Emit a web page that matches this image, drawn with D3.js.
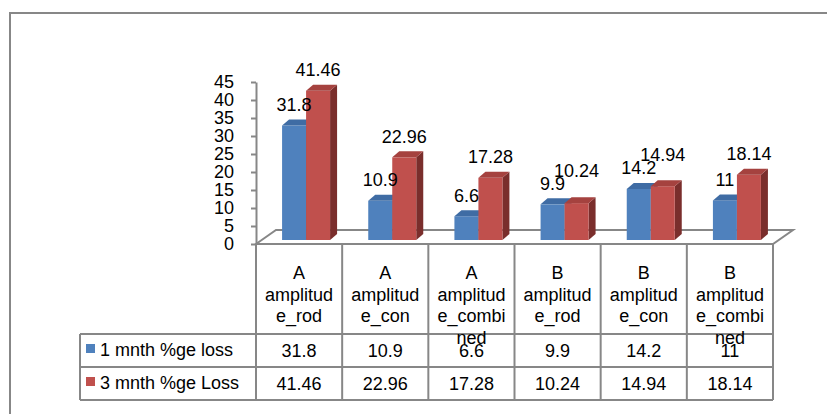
<!DOCTYPE html>
<html>
<head>
<meta charset="utf-8">
<script src="https://cdn.jsdelivr.net/npm/d3@7"></script>
<style>
  html, body { margin: 0; padding: 0; background: #fff; }
  svg { display: block; font-family: "Liberation Sans", Arial, sans-serif; }
</style>
</head>
<body>
<svg id="chart" width="827" height="414"></svg>
<script>
// ---- data ----
const categories = ["A amplitude_rod", "A amplitude_con", "A amplitude_combined",
                    "B amplitude_rod", "B amplitude_con", "B amplitude_combined"];
const seriesNames = ["1 mnth %ge loss", "3 mnth %ge Loss"];
const oneMonth = [31.8, 10.9, 6.6, 9.9, 14.2, 11];
const threeMonth = [41.46, 22.96, 17.28, 10.24, 14.94, 18.14];
const yTicks = [0, 5, 10, 15, 20, 25, 30, 35, 40, 45];

const seriesValues = [oneMonth, threeMonth];
const colors = [
  { front: "#4F81BD", top: "#3F6CA4", side: "#2F5683" },
  { front: "#C0504D", top: "#A5423F", side: "#7A2E2C" }
];
const gridColor = "#878787";

const svg = d3.select("#chart");

// outer frame
svg.append("rect").attr("x", 10).attr("y", 13).attr("width", 830).attr("height", 420)
  .attr("fill", "none").attr("stroke", gridColor).attr("stroke-width", 2);

// scales
const x = d3.scaleBand().domain(categories).range([256, 773]).padding(0);
const xs = d3.scaleBand().domain(seriesNames).range([0, 48]).padding(0);
const y = d3.scaleLinear().domain([0, 45]).range([244, 82]);

const depthX = 20, depthY = -14;      // floor depth
const barShiftX = 7, barShiftY = -4;  // bars placed mid-depth
const boxDX = 7, boxDY = -6;          // bar box depth

// floor
const x0 = x.range()[0], x1 = x.range()[1], y0 = y(0);
svg.append("polygon")
  .attr("points", [[x0, y0], [x0 + depthX, y0 + depthY], [x1 + depthX, y0 + depthY], [x1, y0]].map(p => p.join(",")).join(" "))
  .attr("fill", "#fff").attr("stroke", gridColor).attr("stroke-width", 2);

// y axis
const axis = svg.append("g").attr("transform", `translate(${x0},0)`)
  .call(d3.axisLeft(y).tickValues(yTicks).tickSize(5).tickSizeOuter(0).tickPadding(17));
axis.select(".domain").attr("stroke", gridColor).attr("stroke-width", 2);
axis.selectAll(".tick line").attr("stroke", gridColor).attr("stroke-width", 2);
axis.selectAll(".tick text").attr("font-size", 18).attr("fill", "#000")
  .attr("font-family", "Liberation Sans, Arial, sans-serif");

// bars
const bw = xs.bandwidth();
const groupOffset = (x.bandwidth() - 48) / 2 + barShiftX;
const barsG = svg.append("g");
const labelData = [];
categories.forEach((c, i) => {
  seriesNames.forEach((s, j) => {
    const v = seriesValues[j][i];
    const bx = x(c) + groupOffset + xs(s);
    const top = y(v) + barShiftY;
    const bottom = y(0) + barShiftY;
    const col = colors[j];
    // side face
    barsG.append("polygon")
      .attr("points", [[bx + bw, top], [bx + bw + boxDX, top + boxDY], [bx + bw + boxDX, bottom + boxDY], [bx + bw, bottom]].map(p => p.join(",")).join(" "))
      .attr("fill", col.side);
    // front face
    barsG.append("rect").attr("x", bx).attr("y", top).attr("width", bw).attr("height", bottom - top)
      .attr("fill", col.front);
    // top face
    barsG.append("polygon")
      .attr("points", [[bx, top], [bx + boxDX, top + boxDY], [bx + bw + boxDX, top + boxDY], [bx + bw, top]].map(p => p.join(",")).join(" "))
      .attr("fill", col.top);
    labelData.push({ i, j, v, cx: bx + bw / 2, cy: top - 21 });
  });
});

// data labels with simple overlap avoidance
const labelsG = svg.append("g");
categories.forEach((c, i) => {
  const a = labelData.find(d => d.i === i && d.j === 0);
  const b = labelData.find(d => d.i === i && d.j === 1);
  if (Math.abs(a.cy - b.cy) < 13) b.cy = a.cy - 13;
});
labelsG.selectAll("text").data(labelData).enter().append("text")
  .attr("x", d => d.cx).attr("y", d => d.cy + 6.5)
  .attr("text-anchor", "middle").attr("font-size", 18).attr("fill", "#000")
  .text(d => d.v);

// data table
const tableG = svg.append("g");
const rowTop = 334, rowH = 33, legendLeft = 80;
const rowYs = seriesNames.map((s, j) => rowTop + j * rowH);
const tableBottom = rowTop + seriesNames.length * rowH;

// horizontal lines
[rowTop, ...rowYs.map(r => r + rowH)].forEach(yy => {
  tableG.append("line").attr("x1", legendLeft).attr("x2", x1).attr("y1", yy).attr("y2", yy)
    .attr("stroke", gridColor).attr("stroke-width", 2);
});
// vertical lines
tableG.append("line").attr("x1", legendLeft).attr("x2", legendLeft).attr("y1", rowTop).attr("y2", tableBottom)
  .attr("stroke", gridColor).attr("stroke-width", 2);
[...categories.map(c => x(c)), x1].forEach(xx => {
  tableG.append("line").attr("x1", xx).attr("x2", xx).attr("y1", y0).attr("y2", tableBottom)
    .attr("stroke", gridColor).attr("stroke-width", 2);
});

// header texts with wrapping
const maxW = 75;
function wrapLines(str, measure) {
  const lines = [];
  str.split(" ").forEach(word => {
    let cur = "";
    for (const ch of word) {
      if (cur && measure(cur + ch) > maxW) { lines.push(cur); cur = ch; }
      else cur += ch;
    }
    if (cur) lines.push(cur);
  });
  return lines;
}
const measurer = svg.append("text").attr("font-size", 18).attr("visibility", "hidden");
const measure = t => { measurer.text(t); return measurer.node().getComputedTextLength(); };
categories.forEach(c => {
  const lines = wrapLines(c, measure);
  const t = tableG.append("text").attr("text-anchor", "middle").attr("font-size", 18).attr("fill", "#000");
  lines.forEach((ln, k) => {
    t.append("tspan").attr("x", x(c) + x.bandwidth() / 2).attr("y", 279 + k * 21.5).text(ln);
  });
});
measurer.remove();

// row values and legend
seriesNames.forEach((s, j) => {
  const ry = rowYs[j];
  tableG.append("rect").attr("x", 86).attr("y", ry + 10).attr("width", 9).attr("height", 9)
    .attr("fill", colors[j].front);
  tableG.append("text").attr("x", 100).attr("y", ry + 22).attr("font-size", 18).attr("fill", "#000").text(s);
  categories.forEach((c, i) => {
    tableG.append("text").attr("x", x(c) + x.bandwidth() / 2).attr("y", ry + 23)
      .attr("text-anchor", "middle").attr("font-size", 18).attr("fill", "#000")
      .text(seriesValues[j][i]);
  });
});
</script>
</body>
</html>
